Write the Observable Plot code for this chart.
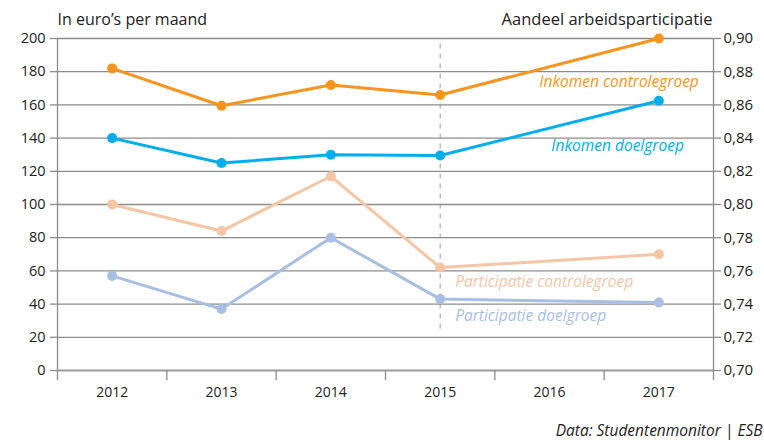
<!DOCTYPE html>
<html>
<head>
<meta charset="utf-8">
<script src="https://cdn.jsdelivr.net/npm/d3@7"></script>
<script src="https://cdn.jsdelivr.net/npm/@observablehq/plot@0.6"></script>
<style>
  html, body { margin: 0; padding: 0; background: #fff; }
  #chart svg { display: block; }
</style>
</head>
<body>
<div id="chart"></div>
<script>
// ---- data ----
const years = [2012, 2013, 2014, 2015, 2017];
const axisYears = [2012, 2013, 2014, 2015, 2016, 2017];
const inkomenControle = [182, 159.5, 172, 166, 200];
const inkomenDoel = [140, 125, 130, 129.5, 162.5];
const participatieControle = [0.800, 0.784, 0.817, 0.762, 0.770];
const participatieDoel = [0.757, 0.737, 0.780, 0.743, 0.741];
const leftTicks = [0, 20, 40, 60, 80, 100, 120, 140, 160, 180, 200];
const seriesNames = ["Inkomen controlegroep", "Inkomen doelgroep", "Participatie controlegroep", "Participatie doelgroep"];
const seriesColors = ["#F7941D", "#00AEEF", "#F5C5A6", "#A8BEE2"];
const cutoffYear = 2015;

// right axis (share) mapped onto left axis (euro) scale
const shareToEuro = v => (v - 0.70) * 1000;
const euroToShare = d => (0.70 + d / 1000).toFixed(2).replace(".", ",");

const rows = [];
years.forEach((yr, i) => {
  rows.push({s: seriesNames[0], year: yr, v: inkomenControle[i]});
  rows.push({s: seriesNames[1], year: yr, v: inkomenDoel[i]});
  rows.push({s: seriesNames[2], year: yr, v: shareToEuro(participatieControle[i])});
  rows.push({s: seriesNames[3], year: yr, v: shareToEuro(participatieDoel[i])});
});
const order = [2, 3, 0, 1];
const labelAnchors = [
  {s: seriesNames[0], year: 2017, v: 173.5, anchor: "end", dx: 40},
  {s: seriesNames[1], year: 2017, v: 135.5, anchor: "end", dx: 25},
  {s: seriesNames[2], year: 2015, v: 53.5, anchor: "start", dx: 15},
  {s: seriesNames[3], year: 2015, v: 33, anchor: "start", dx: 15}
];
const boundaries = d3.range(axisYears[0] - 0.5, axisYears[axisYears.length - 1] + 1, 1);

const grey = "#8c8c8c";
const colorOf = s => seriesColors[seriesNames.indexOf(s)];

const chart = Plot.plot({
  width: 764,
  height: 446,
  marginLeft: 57,
  marginRight: 51,
  marginTop: 38,
  marginBottom: 76,
  style: {fontFamily: "'Open Sans', sans-serif", fontSize: "14px", color: "#222", background: "#fff"},
  x: {type: "linear", domain: [boundaries[0], boundaries[boundaries.length - 1]]},
  y: {domain: [0, 200]},
  marks: [
    // grid
    Plot.ruleY(leftTicks.filter(d => d > 0), {stroke: grey, strokeWidth: 1.3}),
    // vertical frame lines
    Plot.ruleX([boundaries[0], boundaries[boundaries.length - 1]], {y1: 0, y2: 200, stroke: grey, strokeWidth: 1.3}),
    // dashed 2015 marker
    Plot.ruleX([cutoffYear], {y1: 25, y2: 200, stroke: "#999", strokeWidth: 1, strokeDasharray: "5,5"}),
    // baseline
    Plot.ruleY([0], {stroke: "#9a9a9a", strokeWidth: 2.2}),
    // axes
    Plot.axisY({anchor: "left", ticks: leftTicks, tickSize: 7, tickPadding: 5, label: null, stroke: grey, strokeWidth: 1.3, fontSize: 14.5}),
    Plot.axisY({anchor: "right", ticks: leftTicks, tickSize: 7, tickPadding: 3, label: null, tickFormat: euroToShare, stroke: grey, strokeWidth: 1.3, fontSize: 15}),
    Plot.axisX({ticks: boundaries, tickSize: 10, tickFormat: () => "", label: null, stroke: grey, strokeWidth: 1.3}),
    Plot.axisX({ticks: axisYears, tickSize: 0, tickPadding: 17, tickFormat: d => String(d), label: null, fontSize: 14}),
    // series lines + dots
    ...order.map(k => Plot.line(rows.filter(r => r.s === seriesNames[k]), {x: "year", y: "v", stroke: seriesColors[k], strokeWidth: 3})),
    ...order.map(k => Plot.dot(rows.filter(r => r.s === seriesNames[k]), {x: "year", y: "v", fill: seriesColors[k], r: 5})),
    // series labels
    ...labelAnchors.map(l => Plot.text([l], {x: "year", y: "v", text: "s", fill: colorOf(l.s), textAnchor: l.anchor, dx: l.dx, fontStyle: "italic", fontSize: 15.5})),
    // header texts
    Plot.text(["In euro’s per maand"], {frameAnchor: "top-left", textAnchor: "start", lineAnchor: "middle", dy: -19, fontSize: 16, fill: "#222"}),
    Plot.text(["Aandeel arbeidsparticipatie"], {frameAnchor: "top-right", textAnchor: "end", lineAnchor: "middle", dy: -19, dx: -1, fontSize: 16.5, fill: "#222"}),
    Plot.text(["Data: Studentenmonitor | ESB"], {frameAnchor: "bottom-right", textAnchor: "end", lineAnchor: "middle", dx: 49, dy: 61, fontSize: 15.5, fontStyle: "italic", fill: "#222"})
  ]
});
document.getElementById("chart").appendChild(chart);
</script>
</body>
</html>
